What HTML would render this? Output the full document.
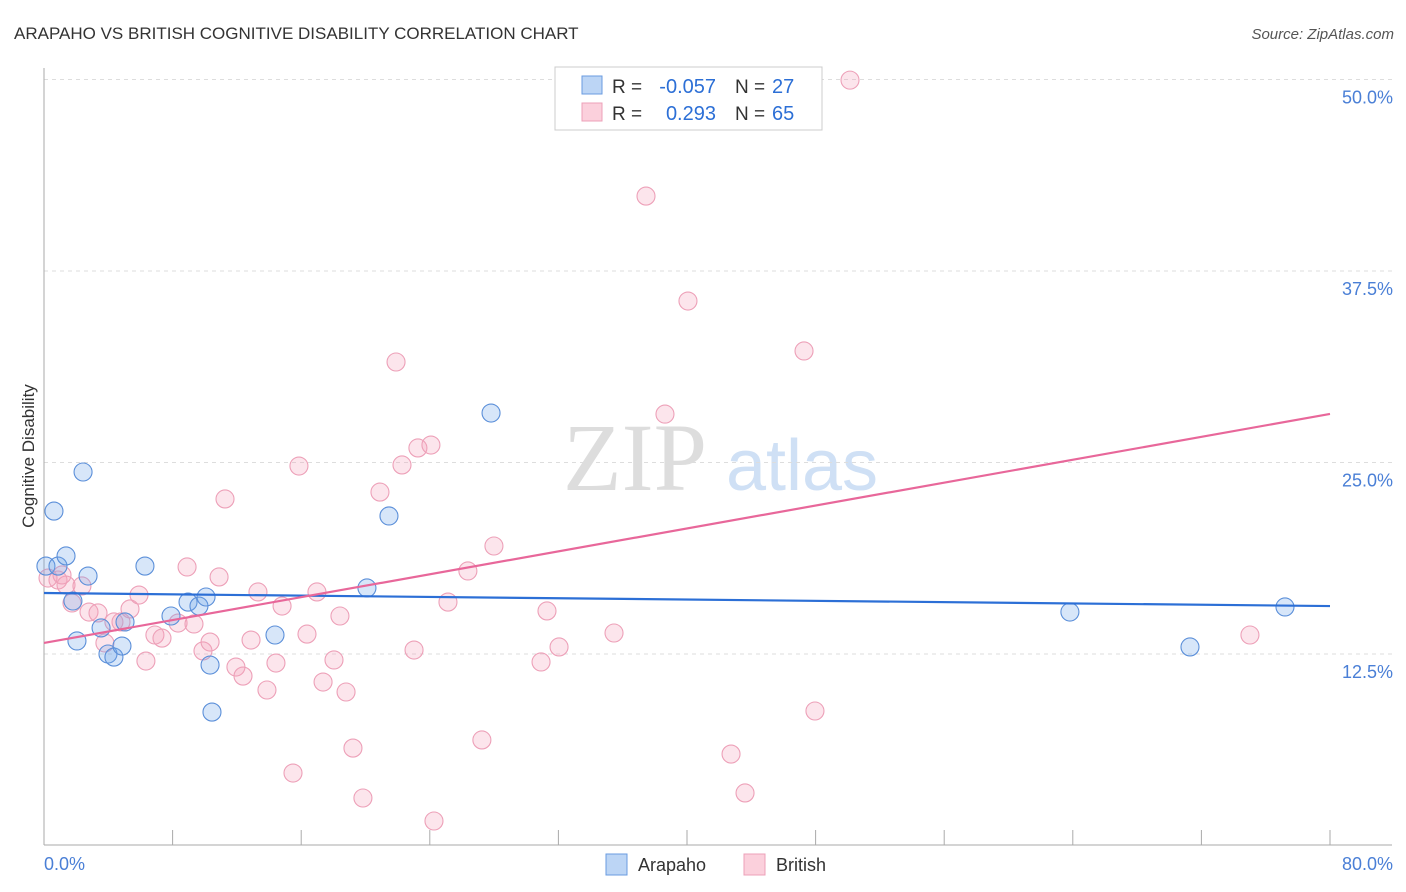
<!DOCTYPE html>
<html><head><meta charset="utf-8"><style>
body{margin:0;background:#fff;font-family:"Liberation Sans",sans-serif;}
svg{display:block}
</style></head><body>
<svg width="1406" height="892" id="chart" xmlns="http://www.w3.org/2000/svg">
<text x="14" y="39" font-size="17" fill="#333">ARAPAHO VS BRITISH COGNITIVE DISABILITY CORRELATION CHART</text>
<text x="1394" y="39" font-size="15" fill="#555" text-anchor="end" font-style="italic">Source: ZipAtlas.com</text>
<text x="635" y="490" font-size="96" fill="#ddd" font-family="Liberation Serif,serif" text-anchor="middle">ZIP</text>
<text x="802" y="490" font-size="72" fill="#cfe0f5" text-anchor="middle">atlas</text>
<g id="grid"></g><g id="axes"></g><g id="marks"></g>
<text transform="translate(34,456) rotate(-90)" font-size="17" fill="#333" text-anchor="middle">Cognitive Disability</text>
<text x="44" y="870" font-size="18" fill="#4a7fd6">0.0%</text>
<text x="1393" y="870" font-size="18" fill="#4a7fd6" text-anchor="end">80.0%</text>
<g>
<rect x="555" y="67" width="267" height="63" fill="#fff" stroke="#ccc"/>
<rect x="582" y="76" width="20" height="18" fill="#bcd5f5" stroke="#6a9be0"/>
<rect x="582" y="103" width="20" height="18" fill="#fbd0dc" stroke="#eda0b8"/>
<text x="612" y="93" font-size="19" fill="#333">R =</text>
<text x="716" y="93" font-size="20" fill="#2c6fd6" text-anchor="end">-0.057</text>
<text x="735" y="93" font-size="19" fill="#333">N =</text>
<text x="772" y="93" font-size="20" fill="#2c6fd6">27</text>
<text x="612" y="120" font-size="19" fill="#333">R =</text>
<text x="716" y="120" font-size="20" fill="#2c6fd6" text-anchor="end">0.293</text>
<text x="735" y="120" font-size="19" fill="#333">N =</text>
<text x="772" y="120" font-size="20" fill="#2c6fd6">65</text>
</g>
<g>
<rect x="606" y="854" width="21" height="21" fill="#bcd5f5" stroke="#6a9be0"/>
<text x="638" y="871" font-size="18" fill="#333">Arapaho</text>
<rect x="744" y="854" width="21" height="21" fill="#fbd0dc" stroke="#eda0b8"/>
<text x="776" y="871" font-size="18" fill="#333">British</text>
</g>
</svg>
<script>
const yTicks=[12.5,25,37.5,50];
const yTickLabels=["12.5%","25.0%","37.5%","50.0%"];
const xTicks=[0,8,16,24,32,40,48,56,64,72,80];
const arapahoX=[0.12,0.62,0.87,1.37,1.80,2.05,2.43,2.74,3.55,3.98,4.35,4.85,5.04,6.28,7.90,8.96,9.64,10.08,10.33,10.45,14.37,20.09,21.46,27.81,63.82,71.29,77.2];
const arapahoY=[18.24,21.83,18.24,18.9,15.96,13.35,24.38,17.59,14.2,12.5,12.3,13.02,14.59,18.24,14.98,15.89,15.63,16.22,11.78,8.71,13.74,16.81,21.51,28.23,15.24,12.96,15.57];
const britishX=[0.25,0.87,1.12,1.37,1.74,2.36,2.80,3.36,3.79,4.35,4.79,5.35,5.91,6.34,6.90,7.34,8.34,8.90,9.33,9.89,10.33,10.89,11.26,11.94,12.38,12.88,13.31,13.87,14.43,14.81,15.49,15.86,16.36,16.98,17.36,18.04,18.41,18.79,19.22,19.84,20.9,21.9,22.27,23.02,23.26,24.07,24.26,25.13,26.37,27.24,27.99,30.92,31.29,32.04,35.46,37.45,38.63,40.06,42.74,43.61,47.28,47.96,50.14,75.02];
const britishY=[17.46,17.33,17.66,17.0,15.83,16.94,15.24,15.18,13.22,14.59,14.59,15.44,16.35,12.04,13.74,13.54,14.52,18.18,14.46,12.7,13.28,17.53,22.62,11.65,11.06,13.41,16.55,10.15,11.91,15.63,4.73,24.77,13.8,16.55,10.67,12.11,14.98,10.02,6.36,3.1,23.07,31.56,24.84,12.76,25.95,26.14,1.6,15.89,17.92,6.89,19.55,11.98,15.31,12.96,13.87,42.39,28.16,35.54,5.97,3.43,32.28,8.78,49.96,13.74];
const arapahoTrend=[16.48,15.63];
const britishTrend=[13.22,28.17];
const NS="http://www.w3.org/2000/svg";
const sx=v=>44+v/80*1286, sy=v=>845.5-v/12.5*191.5;
function mk(t,a,p){const e=document.createElementNS(NS,t);for(const k in a)e.setAttribute(k,a[k]);document.getElementById(p).appendChild(e);return e;}
yTicks.forEach((t,i)=>{
 const l=mk('line',{x1:44,x2:1392,y1:sy(t),y2:sy(t),stroke:'#ddd','stroke-dasharray':'4,4'},'grid');
 
 
 const tx=mk('text',{x:1393,y:sy(t)+24,'font-size':18,fill:'#4a7fd6','text-anchor':'end'},'grid');
 tx.textContent=yTickLabels[i];
 
 
});
const ax=mk('line',{x1:44,x2:44,y1:68,y2:845,stroke:'#aaa'},'axes');


const bx=mk('line',{x1:44,x2:1392,y1:845,y2:845,stroke:'#aaa'},'axes');


xTicks.forEach(t=>{
 const l=mk('line',{x1:sx(t),x2:sx(t),y1:830,y2:845,stroke:'#aaa'},'axes');
 
 
});
britishX.forEach((x,i)=>{
 const c=mk('circle',{cx:sx(x),cy:sy(britishY[i]),r:9,fill:'rgba(244,160,185,0.28)',stroke:'#eda0b8','stroke-width':1.1},'marks');
 
 
});
arapahoX.forEach((x,i)=>{
 const c=mk('circle',{cx:sx(x),cy:sy(arapahoY[i]),r:9,fill:'rgba(110,165,235,0.28)',stroke:'#5b8fd9','stroke-width':1.1},'marks');
 
 
});
const t1=mk('line',{x1:sx(0),x2:sx(80),y1:sy(arapahoTrend[0]),y2:sy(arapahoTrend[1]),stroke:'#2c6fd6','stroke-width':2.2},'marks');


const t2=mk('line',{x1:sx(0),x2:sx(80),y1:sy(britishTrend[0]),y2:sy(britishTrend[1]),stroke:'#e8679a','stroke-width':2.2},'marks');


</script>
</body></html>
